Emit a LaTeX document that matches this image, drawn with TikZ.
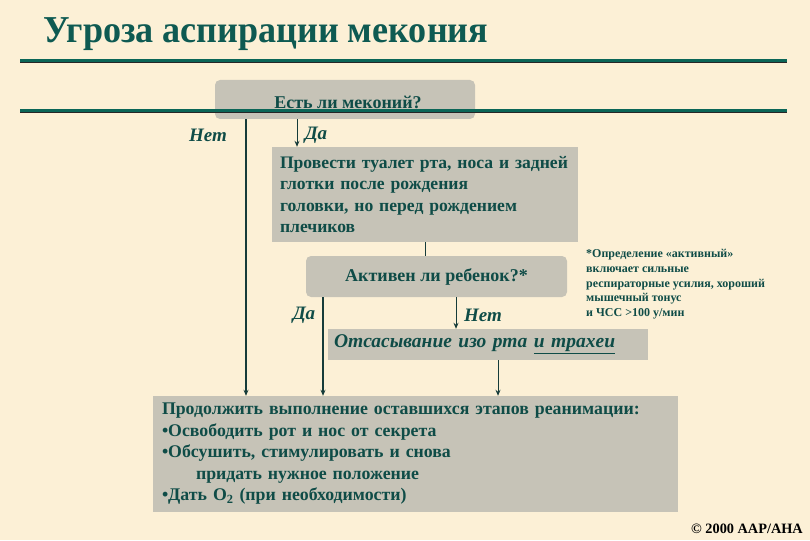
\documentclass[tikz,border=0pt]{standalone}
\usepackage{fontspec}
\setmainfont{Liberation Serif}
\usetikzlibrary{arrows.meta}
\definecolor{bg}{HTML}{FCF0D6}
\definecolor{titlec}{HTML}{0E5A52}
\definecolor{rulec}{HTML}{0B6657}
\definecolor{boxc}{HTML}{C6C3B7}
\definecolor{txt}{HTML}{0F4C47}
\definecolor{linec}{HTML}{163C3A}
\begin{document}
\begin{tikzpicture}[x=1pt,y=-1pt,
  box/.style={fill=boxc, draw=none, inner sep=0pt, text=txt,
    font=\bfseries\fontsize{17.6}{21.6}\selectfont},
  rbox/.style={box, rounded corners=5pt},
  lbl/.style={font=\bfseries\itshape\fontsize{19}{19}\selectfont, text=txt, inner sep=0pt},
  arr/.style={draw=linec, line width=1pt, -{Stealth[length=6pt,width=5pt]}},
  conn/.style={draw=linec, line width=1pt},
  rulebar/.style={draw=rulec, line width=3pt},
  ruleshadow/.style={draw=black!85, line width=3pt}]
\useasboundingbox (0,0) rectangle (810,540);
\fill[bg] (0,0) rectangle (810,540);

% title
\node[anchor=base west, inner sep=0pt, text=titlec,
  font=\bfseries\fontsize{38}{38}\selectfont] (title) at (43,43)
  {\scalebox{0.95}[1]{Угроза аспирации мекония}};

% rules
\coordinate (r1a) at (20,61);  \coordinate (r1b) at (787,61);
\coordinate (r2a) at (20,111); \coordinate (r2b) at (787,111);
\draw[ruleshadow] ([yshift=-1pt]r1a) -- ([yshift=-1pt]r1b);
\draw[rulebar] (r1a) -- (r1b);

% boxes
\node[rbox, minimum width=260pt, minimum height=39pt] (q1) at (345,99.5) {};
\node[font=\bfseries\fontsize{18}{18}\selectfont, text=txt] (q1t) at (348,102) {Есть ли меконий?};

\draw[ruleshadow] ([yshift=-1pt]r2a) -- ([yshift=-1pt]r2b);
\draw[rulebar] (r2a) -- (r2b);

\node[box, minimum width=306pt, minimum height=95pt, text width=290pt,
  inner xsep=8pt, align=left] (b2) at (425,194.5)
  {Провести туалет рта, носа и задней\\глотки после рождения\\головки, но перед рождением\\плечиков};

\node[rbox, minimum width=261pt, minimum height=41pt, font=\bfseries\fontsize{18}{18}\selectfont] (q2) at (436.5,276.5)
  {Активен ли ребенок?*};

\node[box, minimum width=320pt, minimum height=31pt, text width=308pt,
  inner xsep=6pt, align=left, font=\bfseries\itshape\fontsize{19.5}{19.5}\selectfont] (b4) at (488,344.5)
  {Отсасывание изо рта \underline{и трахеи}};

\node[box, minimum width=525pt, minimum height=116pt, text width=507pt,
  inner xsep=9pt, align=left, font=\bfseries\fontsize{17.8}{21.5}\selectfont] (b5) at (415.5,454)
  {Продолжить выполнение оставшихся этапов реанимации:\\
   •Освободить рот и нос от секрета\\
   •Обсушить, стимулировать и снова\\
   \hspace*{34pt}придать нужное положение\\
   •Дать O\textsubscript{2} (при необходимости)};

% labels
\node[lbl] (l1) at (208,135) {Нет};
\node[lbl] (l2) at (316,135) {Да};
\node[lbl] (l3) at (304,315) {Да};
\node[lbl] (l4) at (483,315) {Нет};

% footnote
\node[anchor=north west, inner sep=0pt, align=left, text=txt,
  font=\bfseries\fontsize{12}{14.8}\selectfont] (fn) at (586,249)
  {*Определение «активный»\\включает сильные\\респираторные усилия, хороший\\мышечный тонус\\и ЧСС >100 у/мин};

% copyright
\node[anchor=east, inner sep=0pt, font=\bfseries\fontsize{14.3}{14.3}\selectfont] (copy) at (803,529)
  {© 2000 AAP/AHA};

% connectors
\coordinate (xn) at (246,0);
\coordinate (xd) at (297,0);
\coordinate (xc) at (425,0);
\coordinate (xd2) at (323,0);
\coordinate (xn2) at (456,0);
\coordinate (x4) at (498,0);
\draw[arr, line width=2pt] (q1.south -| xn) -- (b5.north -| xn);
\draw[arr] (q1.south -| xd) -- (b2.north -| xd);
\draw[conn] (b2.south -| xc) -- (q2.north -| xc);
\draw[arr, line width=1.3pt] (q2.south -| xd2) -- (b5.north -| xd2);
\draw[arr] (q2.south -| xn2) -- (b4.north -| xn2);
\draw[arr] (b4.south -| x4) -- (b5.north -| x4);
\end{tikzpicture}
\end{document}
